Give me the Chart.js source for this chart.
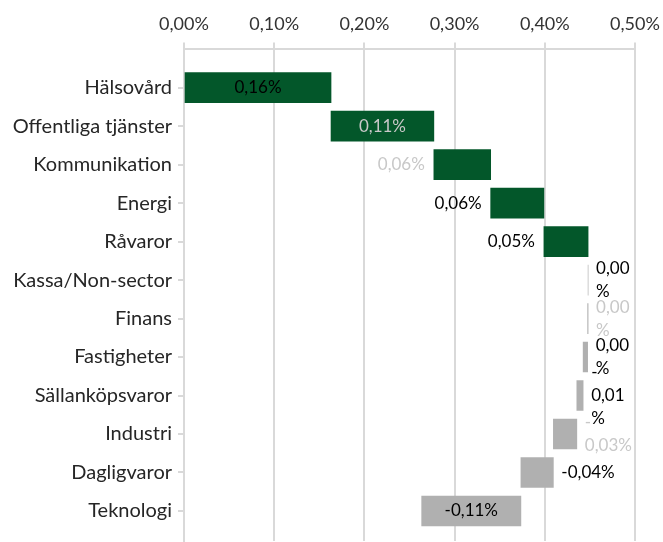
<!DOCTYPE html>
<html>
<head>
<meta charset="utf-8">
<script src="https://cdn.jsdelivr.net/npm/chart.js@4.4.1/dist/chart.umd.min.js"></script>
<style>
  html, body { margin: 0; padding: 0; background: #ffffff; }
  #wrap { width: 663px; height: 542px; position: relative; }
</style>
</head>
<body>
<div id="wrap"><canvas id="c" width="663" height="542"></canvas></div>
<script>
// ---- data ----
const categories = ['Hälsovård', 'Offentliga tjänster', 'Kommunikation', 'Energi', 'Råvaror',
  'Kassa/Non-sector', 'Finans', 'Fastigheter', 'Sällanköpsvaror', 'Industri', 'Dagligvaror', 'Teknologi'];
const contributions = [0.163, 0.114, 0.063, 0.059, 0.049, 0.0, -0.0005, -0.005, -0.007, -0.026, -0.036, -0.110];
const valueLabels = ['0,16%', '0,11%', '0,06%', '0,06%', '0,05%', '0,00\n%', '0,00\n%', '0,00\n%',
  '-\n0,01\n%', '-\n0,03%', '-0,04%', '-0,11%'];
const labelPlacement = ['c', 'c', 'l', 'l', 'l', 'r', 'r', 'r', 'r', 'r', 'r', 'c'];
const labelColors = ['#000000', '#c8c8c8', '#c8c8c8', '#000000', '#000000', '#000000', '#c8c8c8',
  '#000000', '#000000', '#c8c8c8', '#000000', '#000000'];
const xTickLabels = ['0,00%', '0,10%', '0,20%', '0,30%', '0,40%', '0,50%'];

// waterfall table built from the contributions
const floating = [];
let run = 0;
contributions.forEach((v, i) => {
  floating.push({ y: i, x: [run, run + v] });
  run += v;
});
const barColors = contributions.map(v => v > 0 ? '#03572a' : '#b0b0b0');

const FONT = 'Lato';

const labelPlugin = {
  id: 'wfLabels',
  afterDatasetsDraw(chart) {
    const ctx = chart.ctx;
    const meta = chart.getDatasetMeta(0);
    ctx.save();
    ctx.font = '17px ' + FONT;
    ctx.textBaseline = 'middle';
    meta.data.forEach((bar, i) => {
      const l = Math.min(bar.x, bar.base), r = Math.max(bar.x, bar.base);
      const lines = valueLabels[i].split('\n');
      const lh = 23;
      let x;
      if (labelPlacement[i] === 'c') { x = (l + r) / 2; ctx.textAlign = 'center'; }
      else if (labelPlacement[i] === 'l') { x = l - 9; ctx.textAlign = 'right'; }
      else { x = r + 8; ctx.textAlign = 'left'; }
      ctx.fillStyle = labelColors[i];
      const y0 = bar.y - (lines.length - 1) * lh / 2;
      lines.forEach((t, k) => ctx.fillText(t, x, y0 + k * lh));
    });
    ctx.restore();
  }
};

new Chart(document.getElementById('c'), {
  type: 'bar',
  data: {
    datasets: [{
      data: floating,
      backgroundColor: barColors,
      borderWidth: 0,
      barThickness: 30
    }]
  },
  options: {
    indexAxis: 'y',
    responsive: false,
    animation: false,
    layout: { padding: { left: 0, right: 28, top: 5, bottom: 1 } },
    plugins: { legend: { display: false }, tooltip: { enabled: false } },
    scales: {
      x: {
        type: 'linear',
        position: 'top',
        min: 0, max: 0.5,
        afterFit: s => { s.paddingLeft = 0; s.paddingRight = 0; },
        ticks: {
          stepSize: 0.1,
          padding: 8,
          color: '#333333',
          font: { family: FONT, size: 18 },
          callback: (v, i) => xTickLabels[i]
        },
        grid: { color: '#d9d9d9', lineWidth: 2, tickLength: 6 },
        border: { color: '#d9d9d9', width: 2 }
      },
      y: {
        type: 'linear',
        reverse: true,
        offset: false,
        min: -1.014, max: 11.78,
        afterBuildTicks: s => { s.ticks = categories.map((_, i) => ({ value: i })); },
        afterFit: s => { s.width = 184; s.paddingTop = 0; s.paddingBottom = 0; },
        ticks: {
          padding: 6,
          color: '#262626',
          font: { family: FONT, size: 20 },
          callback: v => categories[v]
        },
        grid: { drawOnChartArea: false, offset: false, color: '#d9d9d9', lineWidth: 2, tickLength: 6 },
        border: { color: '#d9d9d9', width: 2 }
      }
    }
  },
  plugins: [labelPlugin]
});
</script>
</body>
</html>
